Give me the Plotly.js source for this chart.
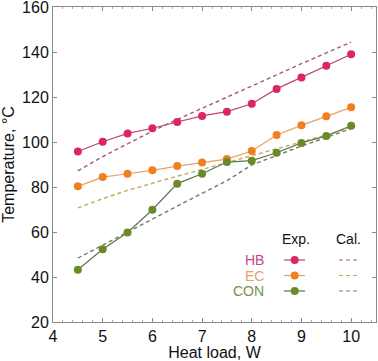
<!DOCTYPE html>
<html>
<head>
<meta charset="utf-8">
<script src="https://cdn.plot.ly/plotly-3.0.1.min.js"></script>
<style>html,body{margin:0;padding:0;background:#fff;}#chart{width:378px;height:361px;}</style>
</head>
<body>
<div id="chart"></div>
<script>
const heatLoad = [4.5, 5, 5.5, 6, 6.5, 7, 7.5, 8, 8.5, 9, 9.5, 10];
const hbExp  = [95.8, 100.1, 103.8, 106.1, 108.9, 111.6, 113.5, 117.0, 123.6, 128.7, 133.9, 139.0];
const ecExp  = [80.3, 84.4, 85.9, 87.4, 89.3, 90.9, 92.4, 96.0, 103.1, 107.4, 111.4, 115.4];
const conExp = [43.2, 52.3, 59.8, 69.9, 81.5, 85.9, 91.1, 91.7, 95.2, 99.6, 102.7, 107.2];
const hbCal  = [87.2, 93.5, 99.2, 104.8, 110.0, 115.0, 120.0, 125.0, 130.0, 134.8, 139.6, 144.4];
const ecCal  = [70.7, 74.8, 78.5, 81.8, 84.8, 87.8, 90.8, 93.8, 96.8, 99.9, 103.1, 106.5];
const conCal = [48.4, 54.2, 60.0, 66.0, 71.5, 77.2, 82.8, 89.8, 94.0, 98.2, 102.0, 106.0];
const seriesNames = ["HB", "EC", "CON"];
const headerLabels = ["Exp.", "Cal."];

const markerColors = ["#dc2566", "#f07f1e", "#6a8a2a"];
const lineColors = ["#b8457a", "#eba064", "#5e7550"];
const calColors = ["#a8587a", "#bcae5a", "#727e64"];
const labelColors = ["#c2468c", "#e6a261", "#77904f"];

const expData = [hbExp, ecExp, conExp];
const calData = [hbCal, ecCal, conCal];

const traces = [];
for (let i = 0; i < 3; i++) {
  traces.push({
    x: heatLoad, y: calData[i], mode: "lines", type: "scatter",
    line: {color: calColors[i], width: 1.4, dash: "4px,3px"}, hoverinfo: "skip"
  });
}
for (let i = 0; i < 3; i++) {
  traces.push({
    x: heatLoad, y: expData[i], mode: "lines+markers", type: "scatter",
    line: {color: lineColors[i], width: 1.2},
    marker: {color: markerColors[i], size: 8}
  });
}

const L = 53, R = 376, T = 7, B = 322;
const W = R - L, H = B - T;
const px = v => (v - L) / W;
const py = v => (B - v) / H;

const annotations = [];
const shapes = [];
const font = "Liberation Sans, Arial, sans-serif";
annotations.push({xref: "paper", yref: "paper", x: px(296), y: py(239), text: headerLabels[0], showarrow: false, font: {family: font, size: 14, color: "#111"}, xanchor: "center", yanchor: "middle"});
annotations.push({xref: "paper", yref: "paper", x: px(348), y: py(239), text: headerLabels[1], showarrow: false, font: {family: font, size: 14, color: "#111"}, xanchor: "center", yanchor: "middle"});
const rowY = [260, 275.5, 291];
for (let i = 0; i < 3; i++) {
  annotations.push({xref: "paper", yref: "paper", x: px(265), y: py(rowY[i]), text: seriesNames[i], showarrow: false, font: {family: font, size: 14, color: labelColors[i]}, xanchor: "right", yanchor: "middle", borderpad: 0});
  shapes.push({type: "line", xref: "paper", yref: "paper", x0: px(284), x1: px(305), y0: py(rowY[i]), y1: py(rowY[i]), line: {color: lineColors[i], width: 1.2}});
  shapes.push({type: "circle", xref: "paper", yref: "paper", x0: px(290.7), x1: px(298.7), y0: py(rowY[i] + 4), y1: py(rowY[i] - 4), fillcolor: markerColors[i], line: {width: 0}});
  shapes.push({type: "line", xref: "paper", yref: "paper", x0: px(339), x1: px(360), y0: py(rowY[i]), y1: py(rowY[i]), line: {color: calColors[i], width: 1.2, dash: "4px,3px"}});
}

const layout = {
  width: 378, height: 361,
  margin: {l: L, r: 378 - R, t: T, b: 361 - B},
  paper_bgcolor: "#fff", plot_bgcolor: "#fff",
  showlegend: false,
  font: {family: font, size: 16, color: "#111"},
  xaxis: {
    range: [4, 10.5], dtick: 1, tick0: 4,
    showgrid: false, zeroline: false, automargin: false,
    showline: true, linecolor: "#8a8a8a", linewidth: 1, mirror: "ticks",
    ticks: "inside", ticklen: 4, tickcolor: "#8a8a8a",
    minor: {dtick: 0.2, ticks: "inside", ticklen: 2, tickcolor: "#aaa", showgrid: false},
    tickfont: {size: 16}, ticklabeloverflow: "allow",
    title: {text: "Heat load, W", font: {size: 16}, standoff: 4}
  },
  yaxis: {
    range: [20, 160], dtick: 20, tick0: 20,
    showgrid: false, zeroline: false, automargin: false,
    showline: true, linecolor: "#8a8a8a", linewidth: 1, mirror: "ticks",
    ticks: "inside", ticklen: 4, tickcolor: "#8a8a8a",
    tickfont: {size: 16}, ticklabeloverflow: "allow",
    title: {text: "Temperature, °C", font: {size: 16}, standoff: 6}
  },
  annotations: annotations,
  shapes: shapes
};

Plotly.newPlot("chart", traces, layout, {displayModeBar: false, staticPlot: true});
</script>
</body>
</html>
